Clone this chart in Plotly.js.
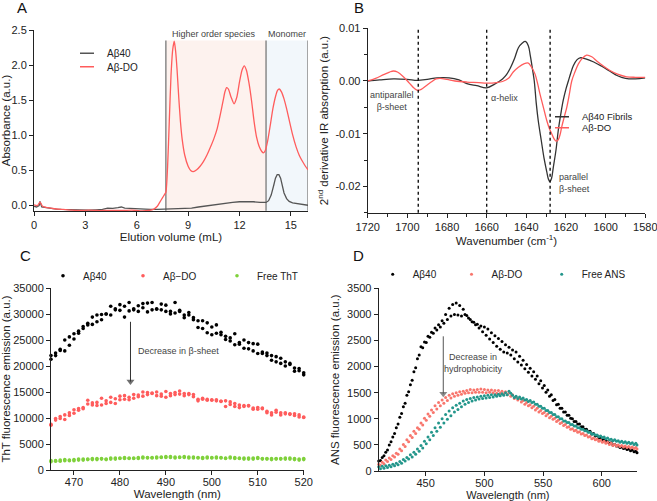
<!DOCTYPE html>
<html><head><meta charset="utf-8">
<script src="https://cdn.plot.ly/plotly-3.0.1.min.js"></script>
<style>html,body{margin:0;padding:0;background:#fff}#chart{width:657px;height:501px}</style>
</head><body><div id="chart"></div>
<script>
// ---------- Panel A: size-exclusion chromatography ----------
const elutionRed = [0, 0.2, 0.35, 0.5, 0.8, 1.2, 1.7, 2.2, 2.7, 3.2, 3.7, 4.2, 4.7, 5.2, 5.7, 6.2, 6.7, 7.0, 7.2, 7.35, 7.5, 7.6, 7.7, 7.8, 7.9, 8.0, 8.1, 8.19, 8.27, 8.35, 8.45, 8.55, 8.65, 8.8, 9.0, 9.15, 9.3, 9.5, 9.7, 9.9, 10.1, 10.3, 10.5, 10.7, 10.9, 11.05, 11.15, 11.25, 11.35, 11.5, 11.68, 11.85, 12.0, 12.15, 12.28, 12.4, 12.55, 12.7, 12.85, 13.0, 13.15, 13.3, 13.4, 13.5, 13.65, 13.8, 13.95, 14.1, 14.22, 14.32, 14.45, 14.6, 14.75, 14.9, 15.1, 15.3, 15.5, 15.7, 15.85, 16.0];
const absorbanceDO = [0.01, 0.0, 0.05, -0.01, -0.03, -0.045, -0.055, -0.065, -0.07, -0.065, -0.07, -0.07, -0.07, -0.07, -0.065, -0.075, -0.07, -0.05, -0.01, 0.05, 0.11, 0.15, 0.19, 0.55, 1.2, 1.85, 2.22, 2.34, 2.2, 1.95, 1.55, 1.2, 0.95, 0.72, 0.56, 0.5, 0.485, 0.51, 0.56, 0.63, 0.72, 0.83, 0.95, 1.1, 1.32, 1.5, 1.62, 1.68, 1.66, 1.55, 1.45, 1.55, 1.76, 1.93, 1.99, 1.93, 1.75, 1.5, 1.2, 0.97, 0.84, 0.77, 0.75, 0.78, 0.93, 1.15, 1.38, 1.55, 1.64, 1.66, 1.62, 1.52, 1.38, 1.22, 1.01, 0.84, 0.71, 0.62, 0.56, 0.51];
const elutionGray = [0, 0.15, 0.3, 0.35, 0.45, 0.7, 1.0, 1.3, 1.6, 2.0, 2.4, 2.8, 3.2, 3.6, 4.0, 4.3, 4.6, 4.9, 5.1, 5.3, 5.6, 6.0, 6.4, 6.8, 7.2, 7.6, 8.0, 8.4, 8.8, 9.2, 9.6, 10.0, 10.4, 10.8, 11.2, 11.6, 12.0, 12.4, 12.8, 13.2, 13.55, 13.7, 13.85, 14.0, 14.1, 14.2, 14.3, 14.4, 14.5, 14.6, 14.75, 14.9, 15.1, 15.4, 15.7, 16.0];
const absorbance40 = [-0.01, -0.02, 0.0, 0.06, -0.02, -0.03, -0.04, -0.05, -0.055, -0.06, -0.065, -0.06, -0.065, -0.06, -0.055, -0.035, -0.04, -0.03, -0.02, -0.035, -0.04, -0.05, -0.05, -0.055, -0.055, -0.05, -0.055, -0.05, -0.045, -0.035, -0.02, -0.005, 0.01, 0.025, 0.035, 0.045, 0.055, 0.06, 0.055, 0.045, 0.045, 0.07, 0.15, 0.29, 0.39, 0.44, 0.44, 0.39, 0.28, 0.18, 0.1, 0.06, 0.04, 0.03, 0.02, 0.005];
const regionBounds = [7.7, 13.55, 16];
const regionLabels = ['Higher order species', 'Monomer'];

// ---------- Panel B: FTIR 2nd derivative ----------
const wnFibrils = [1720, 1714, 1707, 1700, 1695, 1690, 1685, 1679, 1674, 1670, 1665, 1660, 1656, 1652, 1650, 1648, 1646, 1644, 1642, 1640.5, 1639, 1638, 1637, 1636, 1635, 1634, 1632.5, 1631, 1629.7, 1628.8, 1628.1, 1627.3, 1626.4, 1625, 1623.9, 1622.5, 1621.4, 1620, 1618.8, 1617.5, 1616.3, 1614.5, 1612.9, 1610, 1606, 1602, 1598, 1594, 1590, 1585, 1580];
const d2Fibrils = [0.0, 0.0002, 0.0004, 0.0003, 0.0001, 0.0003, 0.0006, 0.0006, 0.0002, -0.0005, -0.0009, -0.0013, -0.0006, 0.0004, 0.0012, 0.0025, 0.0042, 0.0063, 0.0072, 0.0075, 0.0067, 0.0048, 0.0025, 0.0, -0.0042, -0.0075, -0.0112, -0.0148, -0.0172, -0.0187, -0.0191, -0.0185, -0.0164, -0.013, -0.0094, -0.006, -0.0037, -0.0015, 0.0, 0.0016, 0.0029, 0.004, 0.0044, 0.0042, 0.0036, 0.0028, 0.0019, 0.001, 0.0005, 0.0004, 0.0006];
const wnDO = [1720, 1716, 1712, 1709, 1707, 1705, 1702, 1699, 1696.5, 1694.8, 1693, 1690.5, 1688, 1685.5, 1683.5, 1680, 1676, 1670, 1664, 1660, 1655, 1652, 1649, 1646.6, 1644, 1641, 1639, 1637.5, 1635.6, 1634.3, 1633.1, 1631.4, 1629.7, 1628.3, 1627.2, 1626, 1625, 1624, 1623, 1622.2, 1621, 1619.6, 1618.3, 1617.1, 1615.5, 1613.8, 1612, 1609.6, 1607, 1604.5, 1601, 1597.8, 1594, 1589.4, 1585, 1580];
const d2DO = [0.0, 0.0005, 0.0012, 0.0017, 0.0019, 0.0017, 0.0008, -0.0004, -0.0014, -0.0018, -0.0016, -0.0009, -0.0002, 0.0004, 0.0005, 0.0003, 0.0, -0.0002, -0.0003, -0.0004, -0.0003, -0.0001, 0.0005, 0.0017, 0.0026, 0.0033, 0.0034, 0.0027, 0.0013, -0.0005, -0.0025, -0.005, -0.0075, -0.0091, -0.01, -0.011, -0.0114, -0.0112, -0.0102, -0.0088, -0.007, -0.005, -0.0025, 0.0, 0.0017, 0.0032, 0.0042, 0.0049, 0.0046, 0.0038, 0.0028, 0.002, 0.0013, 0.0008, 0.0007, 0.0007];
const bandPositions = [1694.5, 1660, 1628];
const ftirYTicks = [-0.02, -0.01, 0, 0.01];
const ftirYLabels = ['-0.02', '-0.01', '0.00', '0.01'];

// ---------- Panel C: ThT fluorescence ----------
const wavelengthsC = [465,466,467,468,469,470,471,472,473,474,475,476,477,478,479,480,481,482,483,484,485,486,487,488,489,490,491,492,493,494,495,496,497,498,499,500,501,502,503,504,505,506,507,508,509,510,511,512,513,514,515,516,517,518,519,520];
const thtAb40A = [22000, 22500, 23200, 25000, 25600, 26200, 26700, 27600, 28200, 29400, 29800, 29900, 30000, 31500, 31000, 31800, 31500, 32200, 31000, 31600, 32000, 32100, 32200, 31000, 31900, 31700, 30500, 32200, 30700, 29800, 30300, 29300, 28700, 28700, 28300, 27500, 27900, 26500, 25700, 25400, 26200, 24500, 25000, 24500, 24300, 24200, 22700, 22500, 22000, 21800, 21500, 20800, 20500, 19600, 19500, 18700];
const thtAb40B = [21300, 22000, 23000, 22900, 24000, 25200, 26300, 27200, 27900, 28000, 28500, 28900, 30000, 29800, 30800, 30700, 29400, 30600, 30800, 30500, 31200, 30400, 30800, 30900, 30800, 30500, 30000, 30200, 30500, 29300, 29800, 28900, 27400, 27200, 26400, 26000, 26300, 26000, 25100, 24800, 24100, 24200, 23400, 23300, 22900, 22400, 22400, 22000, 21100, 20800, 20500, 20000, 20300, 19000, 19100, 18300];
const thtDOA = [8800, 9900, 10300, 10600, 11000, 11600, 11800, 12000, 13400, 12900, 13000, 13800, 13300, 14000, 13700, 14200, 14300, 14000, 14500, 14400, 15000, 14900, 14700, 15000, 14600, 15100, 14700, 14900, 15200, 14700, 14700, 14500, 13600, 13800, 13600, 13500, 13500, 13200, 13300, 13100, 12800, 12500, 12400, 12400, 11900, 12000, 11900, 11300, 11000, 11500, 11000, 11000, 10800, 10800, 10600, 10200];
const thtDOB = [8600, 9600, 9900, 9700, 10500, 10900, 11500, 11800, 12700, 12500, 12400, 12500, 12800, 13000, 12800, 13500, 13600, 13500, 13800, 14100, 14200, 14500, 14800, 14300, 14200, 14000, 14300, 14500, 14600, 14300, 14500, 14100, 13300, 13600, 13400, 13400, 13300, 13200, 12200, 12600, 12200, 12000, 12200, 12300, 11700, 11700, 11800, 11000, 10600, 11100, 10600, 10800, 10700, 10500, 10200, 10100];
const thtFreeA = [1800, 1800, 1900, 2000, 1900, 2000, 2100, 2100, 2100, 2200, 2200, 2200, 2100, 2300, 2300, 2300, 2400, 2300, 2300, 2400, 2500, 2400, 2400, 2500, 2500, 2600, 2600, 2500, 2500, 2600, 2500, 2500, 2400, 2400, 2500, 2400, 2500, 2400, 2300, 2500, 2400, 2300, 2300, 2300, 2300, 2400, 2200, 2200, 2200, 2200, 2200, 2300, 2300, 2200, 2100, 2200];
const thtFreeB = [1600, 1700, 1700, 1800, 1800, 1800, 1900, 1900, 2000, 2000, 2000, 2100, 2000, 2100, 2100, 2200, 2200, 2200, 2200, 2200, 2300, 2300, 2300, 2300, 2400, 2400, 2400, 2300, 2400, 2400, 2300, 2300, 2300, 2200, 2300, 2300, 2300, 2300, 2200, 2300, 2200, 2200, 2100, 2100, 2100, 2200, 2100, 2100, 2000, 2100, 2100, 2100, 2100, 2000, 1900, 2000];
const thtArrowX = [482.3, 482.3];
const thtArrowY = [28500, 17000];

// ---------- Panel D: ANS fluorescence ----------
const wavelengthsDA = [410,413,416,419,422,425,428,431,434,437,440,443,446,449,452,455,458,461,464,467,470,473,476,479,482,485,488,491,494,497,500,503,506,509,512,515,518,521,524,527,530,533,536,539,542,545,548,551,554,557,560,563,566,569,572,575,578,581,584,587,590,593,596,599,602,605,608,611,614,617,620,623,626,629];
const wavelengthsDB = [411.5,414.5,417.5,420.5,423.5,426.5,429.5,432.5,435.5,438.5,441.5,444.5,447.5,450.5,453.5,456.5,459.5,462.5,465.5,468.5,471.5,474.5,477.5,480.5,483.5,486.5,489.5,492.5,495.5,498.5,501.5,504.5,507.5,510.5,513.5,516.5,519.5,522.5,525.5,528.5,531.5,534.5,537.5,540.5,543.5,546.5,549.5,552.5,555.5,558.5,561.5,564.5,567.5,570.5,573.5,576.5,579.5,582.5,585.5,588.5,591.5,594.5,597.5,600.5,603.5,606.5,609.5,612.5,615.5,618.5,621.5,624.5,627.5,630];
const ansAb40A = [190, 260, 360, 500, 650, 830, 1030, 1230, 1450, 1650, 1900, 2150, 2380, 2470, 2580, 2660, 2740, 2800, 2880, 3000, 3120, 3190, 3220, 3170, 3100, 2980, 2900, 2850, 2810, 2780, 2760, 2720, 2650, 2590, 2540, 2480, 2420, 2370, 2320, 2280, 2200, 2120, 2040, 1970, 1900, 1820, 1730, 1640, 1550, 1460, 1370, 1280, 1200, 1130, 1070, 1000, 950, 900, 850, 800, 760, 720, 680, 640, 600, 560, 540, 510, 480, 460, 440, 420, 400, 380];
const ansAb40B = [200, 290, 400, 560, 720, 900, 1100, 1300, 1520, 1740, 1980, 2220, 2360, 2460, 2560, 2640, 2700, 2760, 2830, 2900, 2970, 3000, 2990, 2970, 3000, 2930, 2860, 2800, 2740, 2670, 2600, 2530, 2460, 2390, 2330, 2280, 2260, 2220, 2150, 2090, 2030, 1960, 1890, 1820, 1760, 1670, 1590, 1510, 1430, 1350, 1270, 1200, 1130, 1070, 1010, 950, 900, 850, 800, 750, 710, 670, 630, 600, 570, 530, 500, 480, 450, 430, 410, 390, 370, 350];
const ansDOA = [130, 170, 210, 250, 290, 340, 420, 510, 600, 680, 760, 830, 920, 1010, 1090, 1170, 1250, 1310, 1360, 1410, 1450, 1480, 1500, 1520, 1530, 1540, 1560, 1550, 1560, 1570, 1560, 1550, 1550, 1540, 1540, 1530, 1520, 1500, 1460, 1420, 1390, 1350, 1310, 1270, 1240, 1200, 1160, 1120, 1090, 1050, 1010, 970, 930, 890, 850, 810, 780, 750, 720, 690, 660, 630, 610, 590, 570, 550, 530, 510, 500, 490, 480, 470, 460, 450];
const ansDOB = [110, 140, 180, 220, 270, 320, 390, 470, 560, 640, 720, 800, 880, 970, 1050, 1120, 1190, 1250, 1300, 1350, 1400, 1430, 1450, 1470, 1490, 1500, 1500, 1510, 1510, 1510, 1500, 1510, 1500, 1490, 1490, 1480, 1460, 1430, 1390, 1360, 1320, 1280, 1250, 1210, 1170, 1130, 1100, 1060, 1020, 990, 950, 910, 870, 840, 800, 770, 740, 710, 680, 650, 620, 600, 570, 550, 530, 510, 490, 480, 470, 460, 450, 440, 430, 420];
const ansFreeA = [80, 90, 100, 110, 130, 150, 180, 220, 260, 310, 360, 420, 490, 570, 650, 740, 830, 920, 1000, 1080, 1150, 1210, 1260, 1300, 1340, 1370, 1390, 1410, 1420, 1430, 1440, 1450, 1460, 1460, 1470, 1480, 1500, 1530, 1450, 1430, 1420, 1400, 1370, 1350, 1320, 1280, 1240, 1200, 1160, 1120, 1080, 1040, 1000, 960, 930, 890, 860, 830, 800, 770, 740, 710, 690, 670, 650, 630, 610, 600, 580, 570, 560, 550, 540, 530];
const ansFreeB = [45, 55, 65, 80, 100, 120, 150, 190, 230, 270, 320, 380, 440, 520, 600, 680, 760, 840, 920, 990, 1060, 1130, 1180, 1230, 1280, 1310, 1340, 1360, 1380, 1390, 1400, 1410, 1420, 1430, 1440, 1450, 1460, 1490, 1410, 1390, 1380, 1360, 1330, 1310, 1280, 1240, 1200, 1160, 1120, 1080, 1040, 1000, 960, 930, 890, 860, 830, 800, 770, 740, 710, 690, 660, 640, 620, 600, 580, 570, 550, 540, 530, 520, 510, 500];
const ansArrowX = [465, 465];
const ansArrowY = [2580, 1480];

// ---------- helpers ----------
const W = 657, H = 501;
const FONT = 'Liberation Sans, Arial, sans-serif';
const C_GRAY = '#555555', C_RED = '#ff5c5c';
const C_BLACK = '#000000', C_SALMON = '#f8766d', C_GREEN = '#7fd13b', C_TEAL = '#23968b';
const px = v => v / W, py = v => 1 - v / H;

function axis(extra) {
  return Object.assign({
    showline: true, linecolor: '#222', linewidth: 1, ticks: 'outside', ticklen: 4, tickwidth: 1,
    tickcolor: '#222', showgrid: false, zeroline: false, automargin: false, fixedrange: true,
    tickfont: {family: FONT, size: 11, color: '#222'}
  }, extra);
}
function ttl(text, standoff, size) { return {text: text, font: {family: FONT, size: size || 11.5, color: '#222'}, standoff: standoff}; }
function legendAt(xPx, yPx, size) {
  return {x: px(xPx), y: py(yPx), xanchor: 'left', yanchor: 'middle', bgcolor: 'rgba(0,0,0,0)',
    borderwidth: 0, font: {family: FONT, size: size || 10, color: '#222'}, itemclick: false, itemdoubleclick: false,
    orientation: 'v', tracegroupgap: 0};
}
function concat(a, b) { return a.concat(b); }
function arrowTrace(xs, ys, xa, ya, color) {
  return {x: xs, y: ys, type: 'scatter', mode: 'lines+markers', line: {color: color, width: 1},
    marker: {symbol: ['line-ns', 'triangle-down'], size: [0, 7], color: color, line: {width: 0}},
    xaxis: xa, yaxis: ya, showlegend: false, hoverinfo: 'skip', cliponaxis: false};
}
function panelLetter(t, xPx, yPx) {
  return {text: t, xref: 'paper', yref: 'paper', x: px(xPx), y: py(yPx), xanchor: 'center', yanchor: 'middle',
    showarrow: false, font: {family: FONT, size: 15, color: '#111'}};
}

const traces = [];
// Panel A lines
traces.push({x: elutionGray, y: absorbance40, type: 'scatter', mode: 'lines', line: {color: C_GRAY, width: 1.3}, xaxis: 'x', yaxis: 'y', showlegend: false, hoverinfo: 'skip'});
traces.push({x: elutionRed, y: absorbanceDO, type: 'scatter', mode: 'lines', line: {color: C_RED, width: 1.3, shape: 'spline', smoothing: 0.6}, xaxis: 'x', yaxis: 'y', showlegend: false, hoverinfo: 'skip'});
traces.push({x: [null], y: [null], type: 'scatter', mode: 'markers', name: 'Aβ40', marker: {symbol: 'line-ew', size: 10, color: C_GRAY, line: {color: C_GRAY, width: 1.5}}, xaxis: 'x', yaxis: 'y', legend: 'legend'});
traces.push({x: [null], y: [null], type: 'scatter', mode: 'markers', name: 'Aβ-DO', marker: {symbol: 'line-ew', size: 10, color: C_RED, line: {color: C_RED, width: 1.5}}, xaxis: 'x', yaxis: 'y', legend: 'legend2'});
// Panel B lines
traces.push({x: wnFibrils, y: d2Fibrils, type: 'scatter', mode: 'lines', line: {color: '#333', width: 1.3, shape: 'spline', smoothing: 1}, xaxis: 'x2', yaxis: 'y2', showlegend: false, hoverinfo: 'skip'});
traces.push({x: wnDO, y: d2DO, type: 'scatter', mode: 'lines', line: {color: C_RED, width: 1.3, shape: 'spline', smoothing: 1}, xaxis: 'x2', yaxis: 'y2', showlegend: false, hoverinfo: 'skip'});
traces.push({x: [null], y: [null], type: 'scatter', mode: 'markers', name: 'Aβ40 Fibrils', marker: {symbol: 'line-ew', size: 10, color: '#333', line: {color: '#333', width: 1.5}}, xaxis: 'x2', yaxis: 'y2', legend: 'legend3'});
traces.push({x: [null], y: [null], type: 'scatter', mode: 'markers', name: 'Aβ-DO', marker: {symbol: 'line-ew', size: 10, color: C_RED, line: {color: C_RED, width: 1.5}}, xaxis: 'x2', yaxis: 'y2', legend: 'legend4'});
// Panel C points
traces.push({x: concat(wavelengthsC, wavelengthsC), y: concat(thtAb40A, thtAb40B), type: 'scatter', mode: 'markers', name: 'Aβ40', marker: {color: C_BLACK, size: 3.6}, xaxis: 'x3', yaxis: 'y3', legend: 'legend5', cliponaxis: false});
traces.push({x: concat(wavelengthsC, wavelengthsC), y: concat(thtDOA, thtDOB), type: 'scatter', mode: 'markers', name: 'Aβ−DO', marker: {color: C_RED, size: 3.6}, xaxis: 'x3', yaxis: 'y3', legend: 'legend6', cliponaxis: false});
traces.push({x: concat(wavelengthsC, wavelengthsC), y: concat(thtFreeA, thtFreeB), type: 'scatter', mode: 'markers', name: 'Free ThT', marker: {color: C_GREEN, size: 3.6}, xaxis: 'x3', yaxis: 'y3', legend: 'legend7', cliponaxis: false});
traces.push(arrowTrace(thtArrowX, thtArrowY, 'x3', 'y3', '#333'));
// Panel D points
traces.push({x: concat(wavelengthsDA, wavelengthsDB), y: concat(ansAb40A, ansAb40B), type: 'scatter', mode: 'markers', name: 'Aβ40', marker: {color: C_BLACK, size: 3}, xaxis: 'x4', yaxis: 'y4', legend: 'legend8', cliponaxis: false});
traces.push({x: concat(wavelengthsDA, wavelengthsDB), y: concat(ansDOA, ansDOB), type: 'scatter', mode: 'markers', name: 'Aβ-DO', marker: {color: C_SALMON, size: 3}, xaxis: 'x4', yaxis: 'y4', legend: 'legend9', cliponaxis: false});
traces.push({x: concat(wavelengthsDA, wavelengthsDB), y: concat(ansFreeA, ansFreeB), type: 'scatter', mode: 'markers', name: 'Free ANS', marker: {color: C_TEAL, size: 3}, xaxis: 'x4', yaxis: 'y4', legend: 'legend10', cliponaxis: false});
traces.push(arrowTrace(ansArrowX, ansArrowY, 'x4', 'y4', '#555'));

const shapes = [];
shapes.push({type: 'rect', xref: 'x', yref: 'y', x0: regionBounds[0], x1: regionBounds[1], y0: -0.075, y1: 2.35, fillcolor: '#fdf2ee', line: {width: 0}, layer: 'below'});
shapes.push({type: 'rect', xref: 'x', yref: 'y', x0: regionBounds[1], x1: regionBounds[2], y0: -0.075, y1: 2.35, fillcolor: '#f2f7fb', line: {width: 0}, layer: 'below'});
regionBounds.forEach(b => shapes.push({type: 'line', xref: 'x', yref: 'y', x0: b, x1: b, y0: -0.075, y1: 2.35, line: {color: '#8a8a8a', width: 1.5}, layer: 'below'}));
bandPositions.forEach(b => shapes.push({type: 'line', xref: 'x2', yref: 'y2 domain', x0: b, x1: b, y0: 0, y1: 1, line: {color: '#111', width: 1.4, dash: 'dot'}}));

const noteFont = {family: FONT, size: 9, color: '#444'};
const annotations = [
  panelLetter('A', 22, 8),
  panelLetter('B', 359, 8),
  panelLetter('C', 25, 255),
  panelLetter('D', 358, 255),
  {text: regionLabels[0], xref: 'x', yref: 'y', x: 10.5, y: 2.44, showarrow: false, font: noteFont},
  {text: regionLabels[1], xref: 'x', yref: 'y', x: 14.8, y: 2.44, showarrow: false, font: noteFont},
  {text: 'antiparallel<br>β-sheet', xref: 'x2', yref: 'y2', x: 1695.6, y: -0.0038, xanchor: 'right', showarrow: false, font: noteFont, align: 'center'},
  {text: 'α-helix', xref: 'x2', yref: 'y2', x: 1659, y: -0.0033, xanchor: 'left', showarrow: false, font: noteFont},
  {text: 'parallel<br>β-sheet', xref: 'x2', yref: 'y2', x: 1624.3, y: -0.0193, xanchor: 'left', showarrow: false, font: noteFont, align: 'left'},
  {text: 'Decrease in β-sheet', xref: 'x3', yref: 'y3', x: 483.4, y: 22900, xanchor: 'left', showarrow: false, font: noteFont},
  {text: 'Decrease in<br>hydrophobicity', xref: 'x4', yref: 'y4', x: 490.5, y: 2060, showarrow: false, font: noteFont, align: 'center'}
];

const layout = {
  width: W, height: H, margin: {l: 0, r: 0, t: 0, b: 0}, paper_bgcolor: '#fff', plot_bgcolor: 'rgba(0,0,0,0)',
  font: {family: FONT, color: '#222'}, showlegend: true, hovermode: false,
  xaxis: axis({domain: [px(34), px(308)], range: [0, 16], tickvals: [0, 3, 6, 9, 12, 15], anchor: 'y', title: ttl('Elution volume (mL)', 0)}),
  yaxis: axis({domain: [py(211), py(30)], range: [-0.077, 2.5], tickvals: [0, 0.5, 1, 1.5, 2, 2.5], tickformat: '.1f', anchor: 'x', title: ttl('Absorbance (a.u.)', 4)}),
  xaxis2: axis({domain: [px(367.7), px(645.3)], range: [1720, 1580], tickvals: [1720, 1700, 1680, 1660, 1640, 1620, 1600, 1580], ticklabeloverflow: 'allow', anchor: 'y2', minor: {dtick: 10, ticklen: 3, tickcolor: '#222', ticks: 'outside'}, title: ttl('Wavenumber (cm<sup>-1</sup>)', 0)}),
  yaxis2: axis({domain: [py(212.7), py(28.3)], range: [-0.025, 0.01], tickvals: ftirYTicks, ticktext: ftirYLabels, anchor: 'x2', minor: {dtick: 0.005, ticklen: 3, tickcolor: '#222', ticks: 'outside'}, title: ttl('2<sup>nd</sup> derivative IR absorption (a.u.)', 4)}),
  xaxis3: axis({domain: [px(51), px(303.7)], range: [465, 520], tickvals: [470, 480, 490, 500, 510, 520], anchor: 'y3', ticklabelstandoff: -2, title: ttl('Wavelength (nm)', 1)}),
  yaxis3: axis({domain: [py(470), py(288)], range: [0, 35000], tickvals: [0, 5000, 10000, 15000, 20000, 25000, 30000, 35000], tickformat: 'd', anchor: 'x3', title: ttl('ThT fluorescence emission (a.u.)', 4)}),
  xaxis4: axis({domain: [px(378.7), px(637)], range: [410, 630], tickvals: [450, 500, 550, 600], anchor: 'y4', ticklabelstandoff: -2, title: ttl('Wavelength (nm)', 3, 11)}),
  yaxis4: axis({domain: [py(471), py(288.3)], range: [0, 3500], tickvals: [0, 500, 1000, 1500, 2000, 2500, 3000, 3500], tickformat: 'd', anchor: 'x4', title: ttl('ANS fluorescence emission (a.u.)', 4)}),
  legend: legendAt(67, 53.3),
  legend2: legendAt(67, 66.7),
  legend3: legendAt(542, 116.7, 9.5),
  legend4: legendAt(542, 127.7, 9.5),
  legend5: legendAt(43, 275.7),
  legend6: legendAt(123, 275.7),
  legend7: legendAt(217, 275.7),
  legend8: legendAt(372.7, 274.3),
  legend9: legendAt(451.5, 274.3),
  legend10: legendAt(541.7, 274.3),
  shapes: shapes, annotations: annotations
};

Plotly.newPlot('chart', traces, layout, {staticPlot: true, displayModeBar: false});
</script></body></html>
